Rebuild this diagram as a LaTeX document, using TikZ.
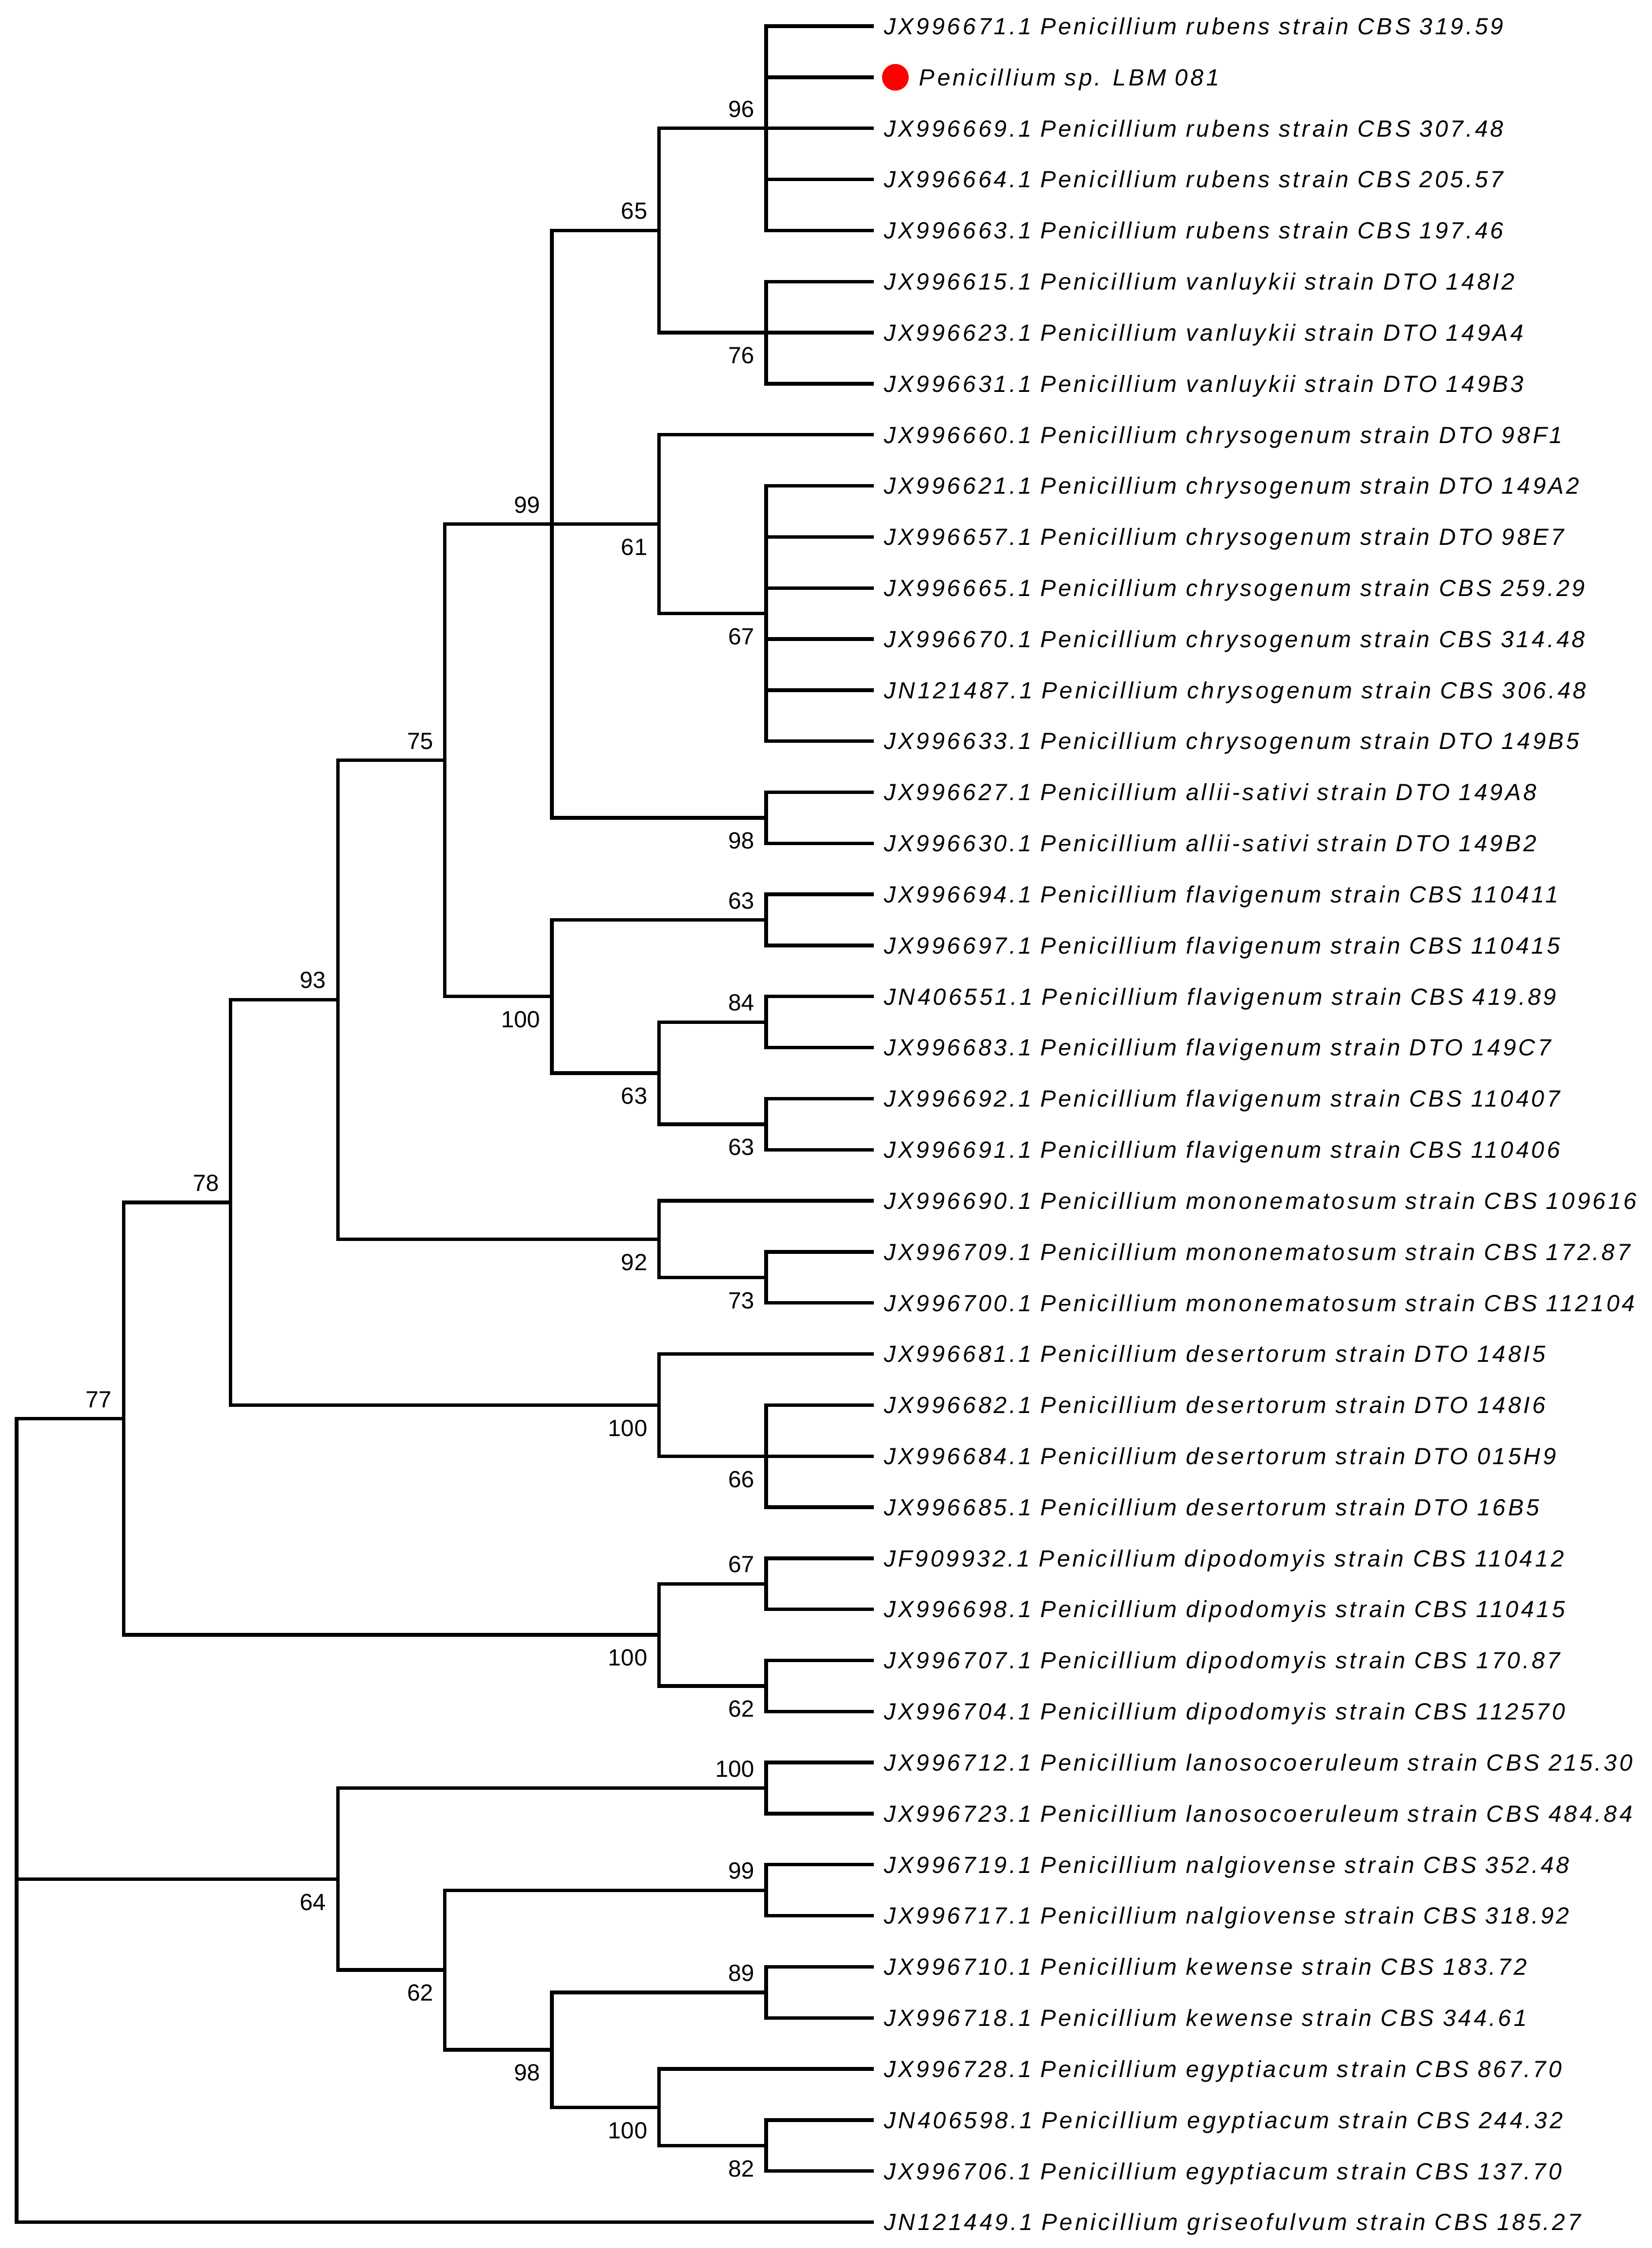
\documentclass[tikz,border=0pt]{standalone}
\usepackage{fontspec}
\setmainfont{Liberation Sans}
\newfontfamily\leaffont{Liberation Sans}[LetterSpace=10.7]
\begin{document}
\begin{tikzpicture}[x=1pt,y=-1pt,
  br/.style={line width=2.5pt},
  leaf/.style={anchor=west, inner xsep=7pt, inner ysep=0pt, text height=11.6pt, text depth=0pt,
    font=\leaffont\itshape\fontsize{16.3}{18}\selectfont},
  bsa/.style={anchor=south east, inner sep=0pt, xshift=-8pt, yshift=7.5pt,
    font=\fontsize{16.3}{18}\selectfont},
  bsb/.style={anchor=north east, inner sep=0pt, text height=11.7pt, xshift=-8pt, yshift=-9.8pt,
    font=\fontsize{16.3}{18}\selectfont},
  dotst/.style={circle, fill=red, inner sep=0pt, minimum size=18.6pt}
]
\fill[white] (0,0) rectangle (1152,1568);
\useasboundingbox (0,0) rectangle (1152,1568);

% leaves
\node[leaf] (l0) at (609.5,18.3) {JX996671.1 Penicillium rubens strain CBS 319.59};
\node[leaf, inner xsep=31.5pt] (l1) at (609.5,53.92) {Penicillium sp. LBM 081};
\node[dotst] (dot) at (624.5,53.92) {};
\node[leaf] (l2) at (609.5,89.54) {JX996669.1 Penicillium rubens strain CBS 307.48};
\node[leaf] (l3) at (609.5,125.16) {JX996664.1 Penicillium rubens strain CBS 205.57};
\node[leaf] (l4) at (609.5,160.78) {JX996663.1 Penicillium rubens strain CBS 197.46};
\node[leaf] (l5) at (609.5,196.4) {JX996615.1 Penicillium vanluykii strain DTO 148I2};
\node[leaf] (l6) at (609.5,232.02) {JX996623.1 Penicillium vanluykii strain DTO 149A4};
\node[leaf] (l7) at (609.5,267.64) {JX996631.1 Penicillium vanluykii strain DTO 149B3};
\node[leaf] (l8) at (609.5,303.26) {JX996660.1 Penicillium chrysogenum strain DTO 98F1};
\node[leaf] (l9) at (609.5,338.88) {JX996621.1 Penicillium chrysogenum strain DTO 149A2};
\node[leaf] (l10) at (609.5,374.5) {JX996657.1 Penicillium chrysogenum strain DTO 98E7};
\node[leaf] (l11) at (609.5,410.12) {JX996665.1 Penicillium chrysogenum strain CBS 259.29};
\node[leaf] (l12) at (609.5,445.74) {JX996670.1 Penicillium chrysogenum strain CBS 314.48};
\node[leaf] (l13) at (609.5,481.36) {JN121487.1 Penicillium chrysogenum strain CBS 306.48};
\node[leaf] (l14) at (609.5,516.98) {JX996633.1 Penicillium chrysogenum strain DTO 149B5};
\node[leaf] (l15) at (609.5,552.6) {JX996627.1 Penicillium allii-sativi strain DTO 149A8};
\node[leaf] (l16) at (609.5,588.22) {JX996630.1 Penicillium allii-sativi strain DTO 149B2};
\node[leaf] (l17) at (609.5,623.84) {JX996694.1 Penicillium flavigenum strain CBS 110411};
\node[leaf] (l18) at (609.5,659.46) {JX996697.1 Penicillium flavigenum strain CBS 110415};
\node[leaf] (l19) at (609.5,695.08) {JN406551.1 Penicillium flavigenum strain CBS 419.89};
\node[leaf] (l20) at (609.5,730.7) {JX996683.1 Penicillium flavigenum strain DTO 149C7};
\node[leaf] (l21) at (609.5,766.32) {JX996692.1 Penicillium flavigenum strain CBS 110407};
\node[leaf] (l22) at (609.5,801.94) {JX996691.1 Penicillium flavigenum strain CBS 110406};
\node[leaf] (l23) at (609.5,837.56) {JX996690.1 Penicillium mononematosum strain CBS 109616};
\node[leaf] (l24) at (609.5,873.18) {JX996709.1 Penicillium mononematosum strain CBS 172.87};
\node[leaf] (l25) at (609.5,908.8) {JX996700.1 Penicillium mononematosum strain CBS 112104};
\node[leaf] (l26) at (609.5,944.42) {JX996681.1 Penicillium desertorum strain DTO 148I5};
\node[leaf] (l27) at (609.5,980.04) {JX996682.1 Penicillium desertorum strain DTO 148I6};
\node[leaf] (l28) at (609.5,1015.66) {JX996684.1 Penicillium desertorum strain DTO 015H9};
\node[leaf] (l29) at (609.5,1051.28) {JX996685.1 Penicillium desertorum strain DTO 16B5};
\node[leaf] (l30) at (609.5,1086.9) {JF909932.1 Penicillium dipodomyis strain CBS 110412};
\node[leaf] (l31) at (609.5,1122.52) {JX996698.1 Penicillium dipodomyis strain CBS 110415};
\node[leaf] (l32) at (609.5,1158.14) {JX996707.1 Penicillium dipodomyis strain CBS 170.87};
\node[leaf] (l33) at (609.5,1193.76) {JX996704.1 Penicillium dipodomyis strain CBS 112570};
\node[leaf] (l34) at (609.5,1229.38) {JX996712.1 Penicillium lanosocoeruleum strain CBS 215.30};
\node[leaf] (l35) at (609.5,1265.0) {JX996723.1 Penicillium lanosocoeruleum strain CBS 484.84};
\node[leaf] (l36) at (609.5,1300.62) {JX996719.1 Penicillium nalgiovense strain CBS 352.48};
\node[leaf] (l37) at (609.5,1336.24) {JX996717.1 Penicillium nalgiovense strain CBS 318.92};
\node[leaf] (l38) at (609.5,1371.86) {JX996710.1 Penicillium kewense strain CBS 183.72};
\node[leaf] (l39) at (609.5,1407.48) {JX996718.1 Penicillium kewense strain CBS 344.61};
\node[leaf] (l40) at (609.5,1443.1) {JX996728.1 Penicillium egyptiacum strain CBS 867.70};
\node[leaf] (l41) at (609.5,1478.72) {JN406598.1 Penicillium egyptiacum strain CBS 244.32};
\node[leaf] (l42) at (609.5,1514.34) {JX996706.1 Penicillium egyptiacum strain CBS 137.70};
\node[leaf] (l43) at (609.5,1549.96) {JN121449.1 Penicillium griseofulvum strain CBS 185.27};

% internal nodes
\coordinate (n96) at (534.4,89.54);
\coordinate (n76) at (534.4,232.02);
\coordinate (n65) at (459.7,160.78);
\coordinate (n67) at (534.4,427.93);
\coordinate (n61) at (459.7,365.595);
\coordinate (n98) at (534.4,570.41);
\coordinate (n99) at (385.0,365.595);
\coordinate (n63a) at (534.4,641.65);
\coordinate (n84) at (534.4,712.89);
\coordinate (n63c) at (534.4,784.13);
\coordinate (n63b) at (459.7,748.51);
\coordinate (n100a) at (385.0,695.08);
\coordinate (n75) at (310.3,530.34);
\coordinate (n73) at (534.4,890.99);
\coordinate (n92) at (459.7,864.275);
\coordinate (n93) at (235.6,697.31);
\coordinate (n66) at (534.4,1015.66);
\coordinate (n100b) at (459.7,980.04);
\coordinate (n78) at (160.9,838.675);
\coordinate (n67b) at (534.4,1104.71);
\coordinate (n62b) at (534.4,1175.95);
\coordinate (n100c) at (459.7,1140.33);
\coordinate (n77) at (86.2,989.5);
\coordinate (n100d) at (534.4,1247.19);
\coordinate (n99b) at (534.4,1318.43);
\coordinate (n89) at (534.4,1389.67);
\coordinate (n82) at (534.4,1496.53);
\coordinate (n100e) at (459.7,1469.815);
\coordinate (n98b) at (385.0,1429.74);
\coordinate (n62c) at (310.3,1374.085);
\coordinate (n64) at (235.6,1310.64);
\coordinate (root) at (11.5,1310.64);

% branches to leaves
\foreach \p/\c in {n96/l0,n96/l1,n96/l2,n96/l3,n96/l4,n76/l5,n76/l6,n76/l7,n61/l8,
  n67/l9,n67/l10,n67/l11,n67/l12,n67/l13,n67/l14,n98/l15,n98/l16,n63a/l17,n63a/l18,
  n84/l19,n84/l20,n63c/l21,n63c/l22,n92/l23,n73/l24,n73/l25,n100b/l26,n66/l27,n66/l28,
  n66/l29,n67b/l30,n67b/l31,n62b/l32,n62b/l33,n100d/l34,n100d/l35,n99b/l36,n99b/l37,
  n89/l38,n89/l39,n100e/l40,n82/l41,n82/l42,root/l43}
  \draw[br] (\p) |- (\c.west);

% internal branches
\foreach \p/\c in {n65/n96,n65/n76,n99/n65,n99/n61,n99/n98,n61/n67,n75/n99,n75/n100a,
  n100a/n63a,n100a/n63b,n63b/n84,n63b/n63c,n93/n75,n93/n92,n92/n73,n78/n93,n78/n100b,
  n100b/n66,n77/n78,n77/n100c,n100c/n67b,n100c/n62b,root/n77,root/n64,n64/n100d,
  n64/n62c,n62c/n99b,n62c/n98b,n98b/n89,n98b/n100e,n100e/n82}
  \draw[br] (\p) |- (\c);

% bootstrap values
\node[bsa] (b96) at (n96) {96};
\node[bsb] (b76) at (n76) {76};
\node[bsa] (b65) at (n65) {65};
\node[bsa] (b99) at (n99) {99};
\node[bsb] (b61) at (n61) {61};
\node[bsb] (b67) at (n67) {67};
\node[bsb] (b98) at (n98) {98};
\node[bsa] (b75) at (n75) {75};
\node[bsa] (b63a) at (n63a) {63};
\node[bsa] (b84) at (n84) {84};
\node[bsb] (b63c) at (n63c) {63};
\node[bsb] (b63b) at (n63b) {63};
\node[bsb] (b100a) at (n100a) {100};
\node[bsa] (b93) at (n93) {93};
\node[bsb] (b92) at (n92) {92};
\node[bsb] (b73) at (n73) {73};
\node[bsa] (b78) at (n78) {78};
\node[bsb] (b100b) at (n100b) {100};
\node[bsb] (b66) at (n66) {66};
\node[bsa] (b77) at (n77) {77};
\node[bsa] (b67b) at (n67b) {67};
\node[bsb] (b100c) at (n100c) {100};
\node[bsb] (b62b) at (n62b) {62};
\node[bsa] (b100d) at (n100d) {100};
\node[bsb] (b64) at (n64) {64};
\node[bsa] (b99b) at (n99b) {99};
\node[bsb] (b62c) at (n62c) {62};
\node[bsa] (b89) at (n89) {89};
\node[bsb] (b98b) at (n98b) {98};
\node[bsb] (b100e) at (n100e) {100};
\node[bsb] (b82) at (n82) {82};
\end{tikzpicture}
\end{document}
